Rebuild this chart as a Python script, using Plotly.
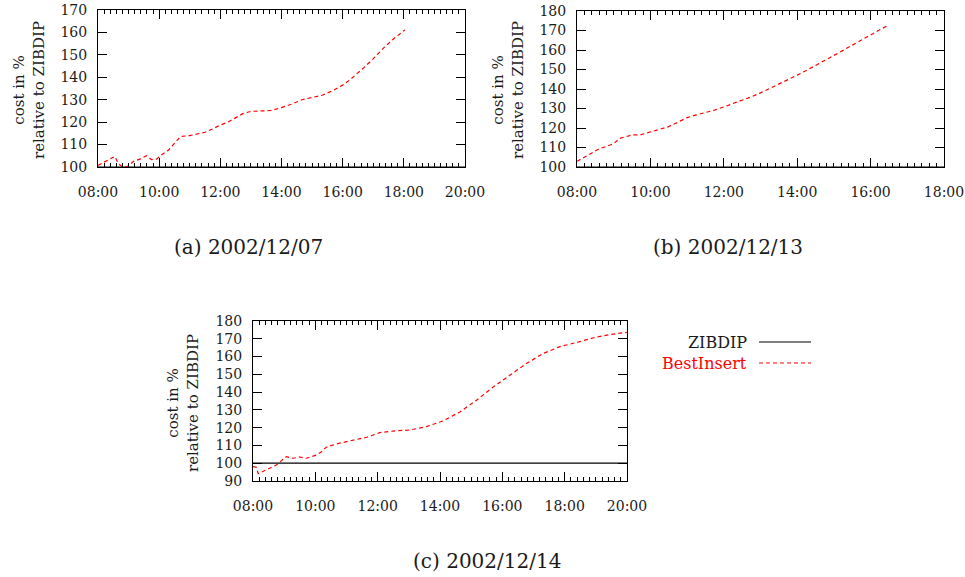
import plotly.graph_objects as go

# ---------------- data ----------------
a_times = ["08:00","08:15","08:33","08:40","08:48","08:58","09:10","09:22","09:35","09:45",
           "09:55","10:05","10:18","10:30","10:42","11:00","11:15","11:30","11:45","12:00",
           "12:15","12:30","12:45","13:00","13:20","13:40","14:00","14:20","14:40","15:00",
           "15:20","15:40","16:00","16:15","16:30","16:45","17:00","17:20","17:40","18:02"]
a_best = [100.7,102.5,104.7,101.5,100.0,100.3,102.5,103.5,105.0,103.3,
          103.5,105.5,107.5,110.5,113.6,114.0,114.6,115.5,117.0,118.7,
          120.0,122.0,123.9,124.8,125.0,125.2,126.5,128.0,130.0,131.0,
          132.0,134.0,136.5,139.0,141.8,145.0,148.3,153.0,157.2,161.1]

b_times = ["08:00","08:12","08:24","08:36","08:50","09:00","09:10","09:30","09:45","10:00",
           "10:15","10:30","10:45","11:00","11:15","11:30","11:45","12:00","12:15","12:30",
           "12:45","13:00","13:15","13:30","13:45","14:00","14:15","14:30","14:45","15:00",
           "15:15","15:30","15:45","16:00","16:15","16:28"]
b_best = [102.9,105.0,106.8,109.3,110.8,112.0,114.7,116.4,116.6,118.0,
          119.2,120.7,123.0,125.3,126.7,127.8,129.2,130.8,132.4,134.1,
          136.0,138.0,140.2,142.5,144.8,147.1,149.5,152.0,154.5,157.2,
          159.8,162.5,165.0,167.5,170.0,172.6]

c_times = ["08:00","08:06","08:10","08:26","08:45","09:04","09:17","09:30","09:43","10:02",
           "10:12","10:21","10:40","11:13","11:39","12:04","12:30","13:02","13:34","14:06",
           "14:39","15:11","15:43","16:15","16:47","17:19","17:51","18:24","18:56","19:29","20:00"]
c_best = [98.1,97.8,94.1,96.2,99.0,103.7,102.8,103.5,102.8,104.6,
          106.5,109.0,110.8,113.0,114.6,117.2,118.1,118.7,120.6,123.8,
          129.0,135.6,143.0,149.6,156.2,161.8,165.6,168.0,170.6,172.5,173.6]

zib_times = ["08:00", "20:00"]
zib_vals = [100, 100]

panels = [
    ("2002-12-07", a_times, a_best, ["08:00", "20:00"], [100, 170], "(a) 2002/12/07"),
    ("2002-12-13", b_times, b_best, ["08:00", "18:00"], [100, 180], "(b) 2002/12/13"),
    ("2002-12-14", c_times, c_best, ["08:00", "20:00"], [90, 180], "(c) 2002/12/14"),
]

W, H = 965, 577
FONT = "DejaVu Serif"
RED = "#ff0000"
TXT = "#1a1a1a"

# pixel boxes for each plot: (left, right, top, bottom)
boxes = [(98, 465, 10, 167), (577, 944, 11, 167), (253, 627, 321, 481)]
ylabel_pos = [(29, 90), (508, 90), (183, 403)]
caption_pos = [(248, 247), (728, 247), (487, 561)]

fig = go.Figure()
layout = dict(width=W, height=H, margin=dict(l=0, r=0, t=0, b=0, autoexpand=False),
              paper_bgcolor="white", plot_bgcolor="white", showlegend=False,
              font=dict(family=FONT, size=14, color=TXT))
annotations = []
shapes = []

for i, (day, times, vals, xr, yr, cap) in enumerate(panels):
    n = "" if i == 0 else str(i + 1)
    xa, ya = "x" + n, "y" + n
    l, r, t, b = boxes[i]
    fig.add_trace(go.Scatter(x=[f"{day} {s}" for s in zib_times], y=zib_vals, mode="lines",
                             line=dict(color="black", width=1.2), xaxis=xa, yaxis=ya,
                             name="ZIBDIP"))
    fig.add_trace(go.Scatter(x=[f"{day} {s}" for s in times], y=vals, mode="lines",
                             line=dict(color=RED, width=1.2, dash="4px,3px"),
                             xaxis=xa, yaxis=ya, name="BestInsert"))
    layout["xaxis" + n] = dict(
        domain=[l / W, r / W], anchor=ya, type="date", automargin=False,
        range=[f"{day} {xr[0]}", f"{day} {xr[1]}"],
        tickformat="%H:%M", dtick=7200000, tick0=f"{day} 08:00",
        ticks="inside", ticklen=9, tickwidth=1, tickcolor="black",
        showline=True, linecolor="black", linewidth=1, mirror="allticks",
        showgrid=False, zeroline=False, ticklabelstandoff=12,
        tickfont=dict(family=FONT, size=14, color=TXT),
        minor=dict(dtick=720000, tick0=f"{day} 08:00", ticks="inside", ticklen=4,
                   tickwidth=1, tickcolor="black", showgrid=False),
    )
    layout["yaxis" + n] = dict(
        domain=[1 - b / H, 1 - t / H], anchor=xa, range=yr, dtick=10, automargin=False,
        ticks="inside", ticklen=9, tickwidth=1, tickcolor="black",
        showline=True, linecolor="black", linewidth=1, mirror="allticks",
        showgrid=False, zeroline=False, ticklabelstandoff=7,
        tickfont=dict(family=FONT, size=14, color=TXT),
    )
    yx, yy = ylabel_pos[i]
    annotations.append(dict(x=yx / W, y=1 - yy / H, xref="paper", yref="paper",
                            text="cost in %<br>relative to ZIBDIP", textangle=-90,
                            showarrow=False, xanchor="center", yanchor="middle",
                            font=dict(family=FONT, size=15, color=TXT)))
    cx, cy = caption_pos[i]
    annotations.append(dict(x=cx / W, y=1 - cy / H, xref="paper", yref="paper",
                            text=cap, showarrow=False, xanchor="center", yanchor="middle",
                            font=dict(family=FONT, size=20, color=TXT)))

# legend (key) next to panel (c)
legend_items = [("ZIBDIP", "black", "solid", 342), ("BestInsert", RED, "4px,3px", 363)]
for name, col, dash, yy in legend_items:
    annotations.append(dict(x=749 / W, y=1 - yy / H, xref="paper", yref="paper", text=name,
                            showarrow=False, xanchor="right", yanchor="middle",
                            font=dict(family=FONT, size=16,
                                      color=(TXT if col == "black" else col))))
    shapes.append(dict(type="line", xref="paper", yref="paper", x0=759 / W, x1=811 / W,
                       y0=1 - yy / H, y1=1 - yy / H,
                       line=dict(color=col, width=1.2, dash=dash)))

layout["annotations"] = annotations
layout["shapes"] = shapes
fig.update_layout(**layout)
fig.write_html("out.html", config={"displayModeBar": False},
               post_script="document.body.style.margin='0';document.body.style.overflow='hidden';")
